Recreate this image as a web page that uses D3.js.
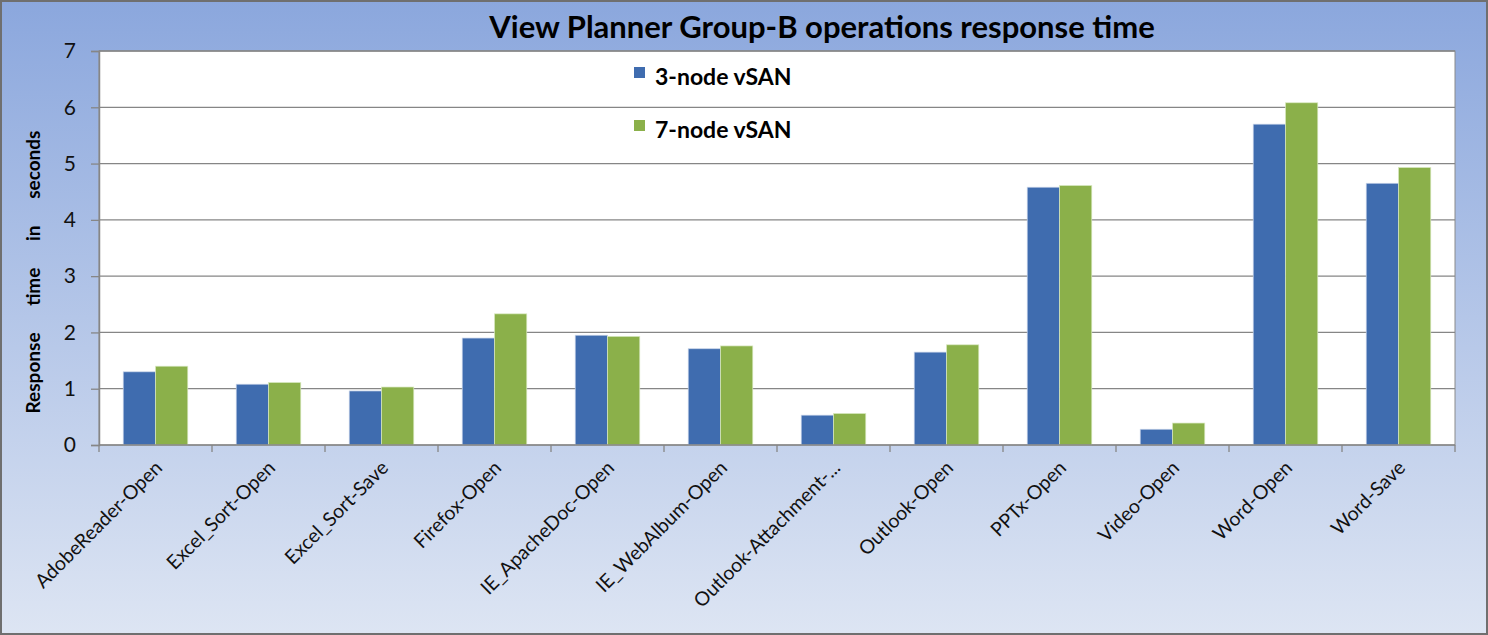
<!DOCTYPE html>
<html>
<head>
<meta charset="utf-8">
<script src="https://cdn.jsdelivr.net/npm/d3@7"></script>
<style>
  body { margin: 0; background: #fff; }
  svg { display: block; font-family: Lato, "Open Sans", sans-serif; }
</style>
</head>
<body>
<div id="chart"></div>
<script>
const categories = ["AdobeReader-Open", "Excel_Sort-Open", "Excel_Sort-Save", "Firefox-Open",
  "IE_ApacheDoc-Open", "IE_WebAlbum-Open", "Outlook-Attachment-...", "Outlook-Open",
  "PPTx-Open", "Video-Open", "Word-Open", "Word-Save"];
const seriesNames = ["3-node vSAN", "7-node vSAN"];
const node3 = [1.30, 1.08, 0.96, 1.90, 1.95, 1.71, 0.53, 1.65, 4.58, 0.28, 5.70, 4.65];
const node7 = [1.40, 1.11, 1.03, 2.33, 1.93, 1.76, 0.56, 1.78, 4.61, 0.39, 6.08, 4.93];
const yTicks = [0, 1, 2, 3, 4, 5, 6, 7];
const colors = ["#3F6CAF", "#8BB04A"];

//CONSTANTS
const w = 1488, h = 635;
const pLeft = 99, pRight = 1455, pTop = 51, pBottom = 445;

const data = categories.map((c, i) => ({cat: c, vals: [node3[i], node7[i]]}));

const svg = d3.select("#chart").append("svg")
  .attr("width", w).attr("height", h);

const defs = svg.append("defs");
const grad = defs.append("linearGradient").attr("id", "bg")
  .attr("x1", 0).attr("y1", 0).attr("x2", 0).attr("y2", 1);
grad.append("stop").attr("offset", "0%").attr("stop-color", "#8BA7DD");
grad.append("stop").attr("offset", "100%").attr("stop-color", "#DDE5F3");

svg.append("rect")
  .attr("x", 1).attr("y", 1).attr("width", w - 2).attr("height", h - 2)
  .attr("fill", "url(#bg)").attr("stroke", "#6f6f6f").attr("stroke-width", 2);

// plot area
svg.append("rect")
  .attr("x", pLeft).attr("y", pTop).attr("width", pRight - pLeft).attr("height", pBottom - pTop)
  .attr("fill", "#fff").attr("stroke", "#8a8a8a").attr("stroke-width", 1);

const x0 = d3.scaleBand().domain(categories).range([pLeft, pRight]).padding(0);
// gap width 150%
const x1 = d3.scaleBand().domain([0, 1]).range([0, x0.bandwidth()]).paddingInner(0).paddingOuter(0.75);
const y = d3.scaleLinear().domain([0, 7]).range([pBottom, pTop]);

// gridlines
svg.append("g").selectAll("line").data(yTicks.slice(1)).enter().append("line")
  .attr("x1", pLeft).attr("x2", pRight)
  .attr("y1", d => y(d)).attr("y2", d => y(d))
  .attr("stroke", "#868686").attr("stroke-width", 1.3);

// bars
svg.append("g").selectAll("g").data(data).enter().append("g")
  .attr("transform", d => `translate(${x0(d.cat)},0)`)
  .selectAll("rect").data(d => d.vals).enter().append("rect")
  .attr("x", (d, i) => x1(i))
  .attr("width", x1.bandwidth())
  .attr("y", d => y(d))
  .attr("height", d => pBottom - y(d))
  .attr("fill", (d, i) => colors[i])
  .attr("stroke", (d, i) => i ? "#d8e8c0" : "#c6d3e8")
  .attr("stroke-width", 0.7);

// Axis
const yAxis = svg.append("g")
  .attr("transform", `translate(${pLeft},0)`)
  .call(d3.axisLeft(y).tickValues(yTicks).tickSize(8).tickPadding(15).tickFormat(d3.format("d")));
yAxis.select(".domain").attr("stroke", "#868686").attr("stroke-width", 1.5);
yAxis.selectAll(".tick line").attr("stroke", "#868686").attr("stroke-width", 1.3);
yAxis.selectAll("text").attr("font-size", 21).attr("fill", "#111").attr("font-family", "Lato, sans-serif");

const xAxis = svg.append("g")
  .attr("transform", `translate(0,${pBottom})`);
xAxis.append("line").attr("x1", pLeft).attr("x2", pRight)
  .attr("stroke", "#868686").attr("stroke-width", 1.5);
xAxis.selectAll(".tk").data(categories.concat(["end"])).enter().append("line")
  .attr("x1", (d, i) => i < categories.length ? x0(d) : pRight)
  .attr("x2", (d, i) => i < categories.length ? x0(d) : pRight)
  .attr("y1", 0).attr("y2", 7)
  .attr("stroke", "#868686").attr("stroke-width", 1.3);
xAxis.selectAll(".lbl").data(categories).enter().append("text")
  .attr("transform", d => `translate(${x0(d) + x0.bandwidth() / 2 + 8},${24}) rotate(-45)`)
  .attr("text-anchor", "end")
  .attr("font-size", 19.5)
  .attr("fill", "#111")
  .text(d => d);

// title
svg.append("text")
  .attr("x", 822).attr("y", 38)
  .attr("text-anchor", "middle")
  .attr("font-size", 31).attr("font-weight", "bold").attr("fill", "#000")
  .text("View Planner Group-B operations response time");

// y title
svg.append("text")
  .attr("transform", `translate(40,${272}) rotate(-90)`)
  .attr("text-anchor", "middle")
  .attr("font-size", 19).attr("font-weight", "bold").attr("fill", "#000")
  .attr("word-spacing", 22)
  .text("Response time in seconds");

// legend
const lg = svg.append("g").selectAll("g").data(seriesNames).enter().append("g")
  .attr("transform", (d, i) => `translate(634,${77 + i * 53})`);
lg.append("rect").attr("x", 0).attr("y", -10).attr("width", 11).attr("height", 11)
  .attr("fill", (d, i) => colors[i]);
lg.append("text").attr("x", 21).attr("y", 0).attr("dy", "0.35em")
  .attr("font-size", 23).attr("font-weight", "bold").attr("fill", "#000")
  .text(d => d);
</script>
</body>
</html>
